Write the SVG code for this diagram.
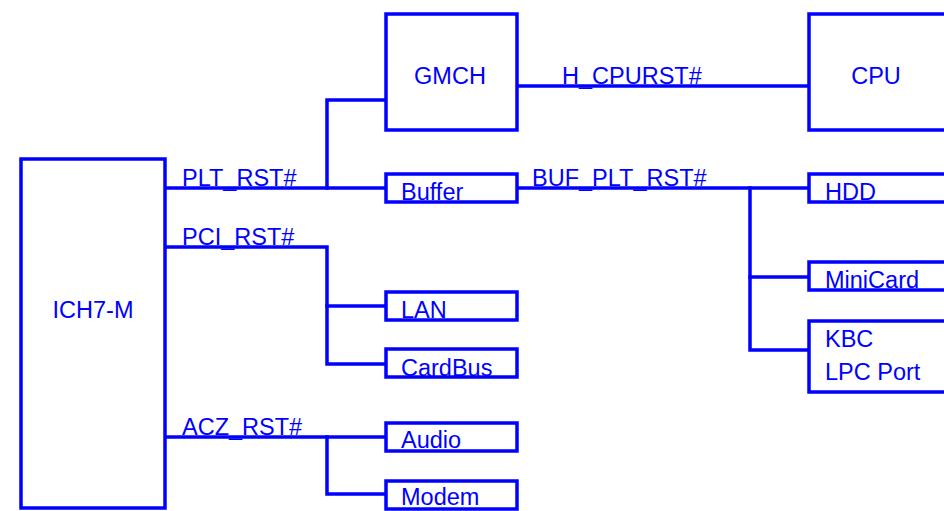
<svg xmlns="http://www.w3.org/2000/svg" width="944" height="511" viewBox="0 0 944 511">
<style>
.box{fill:#fff;stroke:#0000FF;stroke-width:3.5}
.w{fill:none;stroke:#0000FF;stroke-width:3.5;stroke-linecap:square}
text{font-family:"Liberation Sans",Arial,sans-serif;font-size:23.5px;fill:#0000FF}
</style>
<rect width="944" height="511" fill="#fff"/>
<g id="connectors">
<polyline class="w" points="517,86 809,86"/>
<polyline class="w" points="165,188 386,188"/>
<polyline class="w" points="327,188 327,100 386,100"/>
<polyline class="w" points="517,188 809,188"/>
<polyline class="w" points="750,188 750,350 809,350"/>
<polyline class="w" points="750,277 809,277"/>
<polyline class="w" points="165,247 327,247 327,364 386,364"/>
<polyline class="w" points="327,306 386,306"/>
<polyline class="w" points="165,437 386,437"/>
<polyline class="w" points="327,437 327,494 386,494"/>
<text x="182" y="186">PLT_RST#</text>
<text x="182" y="245">PCI_RST#</text>
<text x="182" y="435">ACZ_RST#</text>
<text x="562" y="84">H_CPURST#</text>
<text x="532" y="186">BUF_PLT_RST#</text>
</g>
<g id="ich7m"><rect class="box" x="21" y="159" width="144" height="349"/><text x="93" y="318" text-anchor="middle">ICH7-M</text></g>
<g id="gmch"><rect class="box" x="386" y="14" width="131" height="116"/><text x="450" y="84" text-anchor="middle">GMCH</text></g>
<g id="cpu"><rect class="box" x="809" y="14" width="150" height="116"/><text x="876" y="84" text-anchor="middle">CPU</text></g>
<g id="buffer"><rect class="box" x="386" y="174" width="131" height="28"/><text x="401" y="200">Buffer</text></g>
<g id="hdd"><rect class="box" x="809" y="174" width="150" height="28"/><text x="825" y="200">HDD</text></g>
<g id="minicard"><rect class="box" x="809" y="262" width="150" height="28"/><text x="825" y="288">MiniCard</text></g>
<g id="kbc"><rect class="box" x="809" y="321" width="150" height="71"/><text x="825" y="347">KBC</text><text x="825" y="380">LPC Port</text></g>
<g id="lan"><rect class="box" x="386" y="292" width="131" height="28"/><text x="401" y="318">LAN</text></g>
<g id="cardbus"><rect class="box" x="386" y="349" width="131" height="28"/><text x="401" y="376">CardBus</text></g>
<g id="audio"><rect class="box" x="386" y="423" width="131" height="28"/><text x="401" y="448">Audio</text></g>
<g id="modem"><rect class="box" x="386" y="481" width="131" height="28"/><text x="401" y="505">Modem</text></g>
</svg>
